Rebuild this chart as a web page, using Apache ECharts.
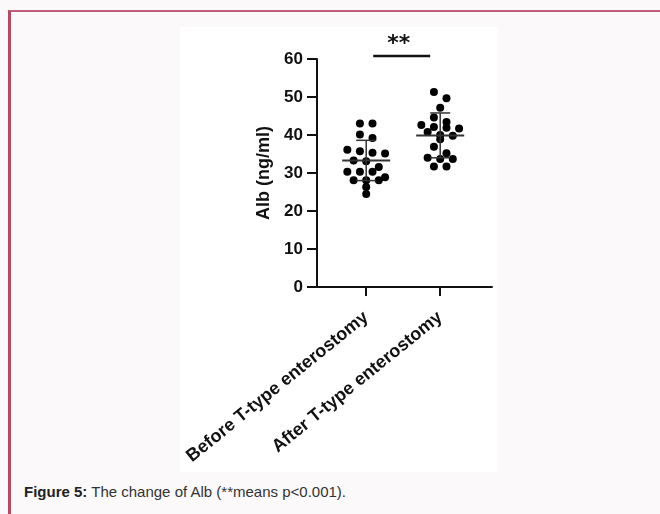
<!DOCTYPE html>
<html>
<head>
<meta charset="utf-8">
<script src="https://cdn.jsdelivr.net/npm/echarts@6/dist/echarts.min.js"></script>
<style>
	html,body{margin:0;padding:0;width:660px;height:514px;overflow:hidden;background:#fbf9fa;}
	.frame{position:absolute;left:8px;top:10px;width:700px;height:600px;border-left:3px solid #b84a66;border-top:2px solid #c05f79;}
	#main{position:absolute;left:180px;top:27px;width:318px;height:445px;background:#fff;}
	.caption{position:absolute;left:24px;top:483px;font:15px/17px 'Liberation Sans',Arial,sans-serif;color:#333;white-space:nowrap;}
	.caption b{color:#222;}
</style>
</head>
<body>
	<div class="frame"></div>
	<div id="main"></div>
	<div class="caption"><b>Figure 5:</b> The change of Alb (**means p&lt;0.001).</div>
<script type="text/javascript">
// categories on the x axis
var categories = ['Before T-type enterostomy', 'After T-type enterostomy'];
// Alb values (ng/ml)
var beforeVals = [43.0, 43.0, 40.1, 39.2, 36.1, 35.7, 35.3, 35.1, 33.3, 33.1,
                  31.6, 30.3, 30.3, 30.3, 28.9, 28.1, 28.1, 28.1, 26.3, 24.5];
var afterVals  = [51.3, 49.7, 47.2, 44.6, 43.4, 42.6, 42.1, 41.9, 41.7, 40.8,
                  40.0, 39.8, 38.9, 36.9, 35.2, 34.0, 33.7, 33.7, 31.7, 31.7];
// mean and SD bars as drawn
var meanVals = [33.3, 39.9];
var sdVals   = [5.3, 5.9];
// y axis
var yMin = 0, yMax = 60, yStep = 10;
var sigLabel = '**';

var FONT = "'Liberation Sans', Arial, sans-serif";

// simple column scatter layout: nearby values are spread side by side
function swarm(vals, center) {
	var s = vals.slice().sort(function(a, b){ return b - a; });
	var out = [], i = 0;
	while (i < s.length) {
		var j = i;
		while (j < s.length && s[i] - s[j] < 1.7) j++;
		var n = j - i;
		for (var k = 0; k < n; k++) {
			out.push([center + (k - (n - 1) / 2) * 0.17, s[i + k]]);
		}
		i = j;
	}
	return out;
}

var chart = echarts.init(document.getElementById('main'));

var dotStyle = {color: '#000', opacity: 1};

var option = {
	animation: false,
	backgroundColor: '#fff',
	grid: {left: 137, right: 6, top: 32, bottom: 185},
	xAxis: {
		type: 'value',
		min: 0.335,
		max: 2.7,
		splitLine: {show: false},
		axisLine: {show: true, lineStyle: {color: '#111', width: 2}},
		axisTick: {show: true, customValues: [1, 2], length: 9, lineStyle: {color: '#111', width: 2}},
		axisLabel: {
			customValues: [1, 2],
			formatter: function(v){ return categories[Math.round(v) - 1]; },
			rotate: 39,
			margin: 28,
			color: '#111',
			fontSize: 18,
			fontWeight: 'bold',
			fontFamily: FONT
		}
	},
	yAxis: {
		type: 'value',
		min: yMin,
		max: yMax,
		interval: yStep,
		name: 'Alb (ng/ml)',
		nameLocation: 'middle',
		nameRotate: 90,
		nameGap: 44,
		nameTextStyle: {color: '#111', fontSize: 18, fontWeight: 'bold', fontFamily: FONT},
		splitLine: {show: false},
		axisLine: {show: true, onZero: false, lineStyle: {color: '#111', width: 2}},
		axisTick: {show: true, length: 10, lineStyle: {color: '#111', width: 2}},
		axisLabel: {margin: 14, color: '#111', fontSize: 17, fontWeight: 'bold', fontFamily: FONT}
	},
	series: [
		{
			type: 'scatter',
			symbol: 'circle',
			symbolSize: 8,
			itemStyle: dotStyle,
			data: swarm(beforeVals, 1)
		},
		{
			type: 'scatter',
			symbol: 'circle',
			symbolSize: 8,
			itemStyle: dotStyle,
			data: swarm(afterVals, 2)
		},
		{
			// mean line with SD whiskers
			type: 'custom',
			z: 5,
			data: meanVals.map(function(m, i){ return [i + 1, m, sdVals[i]]; }),
			renderItem: function(params, api){
				var x = api.value(0), m = api.value(1), s = api.value(2);
				var c = api.coord([x, m]), hi = api.coord([x, m + s]), lo = api.coord([x, m - s]);
				var st = {stroke: '#333', lineWidth: 1.5};
				return {type: 'group', children: [
					{type: 'line', shape: {x1: c[0] - 24, y1: c[1], x2: c[0] + 24, y2: c[1]}, style: {stroke: '#333', lineWidth: 2}},
					{type: 'line', shape: {x1: hi[0], y1: hi[1], x2: lo[0], y2: lo[1]}, style: st},
					{type: 'line', shape: {x1: hi[0] - 10, y1: hi[1], x2: hi[0] + 10, y2: hi[1]}, style: st},
					{type: 'line', shape: {x1: lo[0] - 10, y1: lo[1], x2: lo[0] + 10, y2: lo[1]}, style: st}
				]};
			}
		},
		{
			// significance bar between the two groups
			type: 'custom',
			z: 5,
			data: [[1, 2]],
			renderItem: function(params, api){
				var a = api.coord([api.value(0), yMax]), b = api.coord([api.value(1), yMax]);
				var y = a[1] - 3, x1 = a[0] + 7, x2 = b[0] - 10;
				return {type: 'group', children: [
					{type: 'line', shape: {x1: x1, y1: y, x2: x2, y2: y}, style: {stroke: '#111', lineWidth: 2.5}},
					{type: 'text', x: (x1 + x2) / 2 - 3, y: y - 12, style: {
						text: sigLabel, fill: '#111', font: 'bold 22px "DejaVu Sans", sans-serif',
						align: 'center', verticalAlign: 'middle'
					}}
				]};
			}
		}
	]
};

chart.setOption(option);
</script>
</body>
</html>
